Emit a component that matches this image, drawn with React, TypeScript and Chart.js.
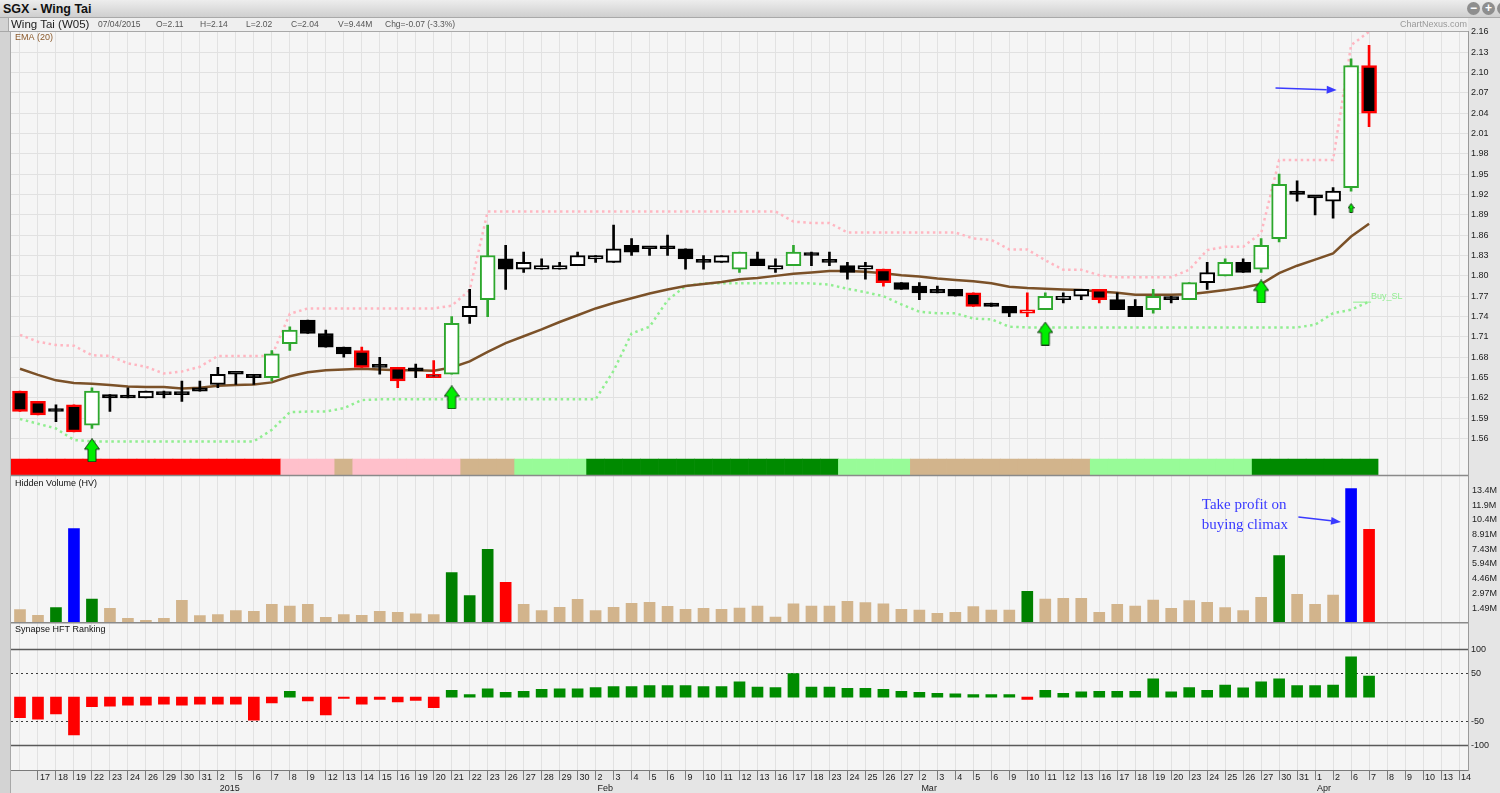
import React, { useEffect, useRef } from 'react';
import { Chart, registerables } from 'chart.js';

Chart.register(...registerables);

// ---------------- data ----------------
const xLabels: (string | string[])[] = [
  '16', '17', '18', '19', '22', '23', '24', '26', '29', '30', '31',
  ['2', '2015'], '5', '6', '7', '8', '9', '12', '13', '14', '15', '16', '19', '20', '21', '22', '23', '26', '27', '28', '29', '30',
  ['2', 'Feb'], '3', '4', '5', '6', '9', '10', '11', '12', '13', '16', '17', '18', '23', '24', '25', '26', '27',
  ['2', 'Mar'], '3', '4', '5', '6', '9', '10', '11', '12', '13', '16', '17', '18', '19', '20', '23', '24', '25', '26', '27', '30', '31',
  ['1', 'Apr'], '2', '6', '7', '8', '9', '10', '13', '14',
];

const opens = [
  1.63, 1.615, 1.60, 1.61, 1.58, 1.625, 1.62, 1.62, 1.625, 1.625, 1.635,
  1.64, 1.655, 1.655, 1.65, 1.70, 1.735, 1.715, 1.695, 1.69, 1.665, 1.665, 1.66, 1.655, 1.655, 1.74, 1.765, 1.825, 1.81, 1.81, 1.81, 1.815,
  1.825, 1.82, 1.845, 1.84, 1.84, 1.84, 1.82, 1.82, 1.81, 1.825, 1.81, 1.815, 1.83, 1.82, 1.815, 1.81, 1.81, 1.79,
  1.785, 1.78, 1.78, 1.775, 1.76, 1.755, 1.745, 1.75, 1.765, 1.77, 1.78, 1.765, 1.755, 1.75, 1.765, 1.765, 1.79, 1.80, 1.82, 1.81, 1.855, 1.925,
  1.915, 1.91, 1.93, 2.11,
];
const highs = [
  1.63, 1.615, 1.61, 1.61, 1.635, 1.625, 1.635, 1.63, 1.63, 1.645, 1.645,
  1.665, 1.655, 1.655, 1.69, 1.725, 1.735, 1.72, 1.695, 1.695, 1.68, 1.665, 1.67, 1.675, 1.74, 1.78, 1.875, 1.845, 1.835, 1.825, 1.82, 1.835,
  1.83, 1.875, 1.855, 1.84, 1.86, 1.84, 1.83, 1.83, 1.835, 1.835, 1.825, 1.845, 1.835, 1.835, 1.82, 1.82, 1.81, 1.79,
  1.79, 1.785, 1.78, 1.775, 1.76, 1.755, 1.775, 1.775, 1.775, 1.78, 1.78, 1.775, 1.765, 1.78, 1.77, 1.79, 1.82, 1.825, 1.825, 1.855, 1.95, 1.94,
  1.915, 1.93, 2.12, 2.14,
];
const lows = [
  1.60, 1.595, 1.585, 1.57, 1.575, 1.60, 1.62, 1.62, 1.62, 1.615, 1.63,
  1.635, 1.64, 1.64, 1.645, 1.69, 1.715, 1.695, 1.68, 1.665, 1.655, 1.635, 1.65, 1.65, 1.655, 1.73, 1.74, 1.78, 1.805, 1.81, 1.81, 1.815,
  1.82, 1.82, 1.83, 1.83, 1.83, 1.81, 1.81, 1.82, 1.805, 1.815, 1.805, 1.815, 1.815, 1.815, 1.795, 1.795, 1.785, 1.78,
  1.765, 1.775, 1.77, 1.755, 1.755, 1.74, 1.74, 1.75, 1.76, 1.765, 1.76, 1.75, 1.74, 1.745, 1.76, 1.765, 1.78, 1.80, 1.805, 1.805, 1.85, 1.91,
  1.89, 1.885, 1.925, 2.02,
];
const closes = [
  1.60, 1.595, 1.60, 1.57, 1.63, 1.62, 1.62, 1.63, 1.625, 1.625, 1.63,
  1.655, 1.655, 1.65, 1.685, 1.72, 1.715, 1.695, 1.685, 1.665, 1.665, 1.645, 1.66, 1.65, 1.73, 1.755, 1.83, 1.81, 1.82, 1.815, 1.815, 1.83,
  1.83, 1.84, 1.835, 1.84, 1.84, 1.825, 1.82, 1.83, 1.835, 1.815, 1.815, 1.835, 1.83, 1.82, 1.805, 1.815, 1.79, 1.78,
  1.775, 1.775, 1.77, 1.755, 1.755, 1.745, 1.75, 1.77, 1.77, 1.78, 1.765, 1.75, 1.74, 1.77, 1.765, 1.79, 1.805, 1.82, 1.805, 1.845, 1.935, 1.92,
  1.915, 1.925, 2.11, 2.04,
];
// candle frame signal: r = bearish highlight, g = bullish highlight, k = plain
const candleSignal = [
  'r', 'r', 'k', 'r', 'g', 'k', 'k', 'k', 'k', 'k', 'k',
  'k', 'k', 'k', 'g', 'g', 'k', 'k', 'k', 'r', 'k', 'r', 'k', 'r', 'g', 'k', 'g', 'k', 'k', 'k', 'k', 'k',
  'k', 'k', 'k', 'k', 'k', 'k', 'k', 'k', 'g', 'k', 'k', 'g', 'k', 'k', 'k', 'k', 'r', 'k',
  'k', 'k', 'k', 'r', 'k', 'k', 'r', 'g', 'k', 'k', 'r', 'k', 'k', 'g', 'k', 'g', 'k', 'g', 'k', 'g', 'g', 'k',
  'k', 'k', 'g', 'r',
];
const ema20 = [
  1.663, 1.654, 1.646, 1.642, 1.641, 1.639, 1.637, 1.636, 1.636, 1.634, 1.635,
  1.638, 1.639, 1.640, 1.643, 1.652, 1.658, 1.661, 1.662, 1.663, 1.662, 1.661, 1.661, 1.660, 1.665, 1.674, 1.688, 1.701, 1.711, 1.721, 1.732, 1.742,
  1.752, 1.760, 1.767, 1.774, 1.780, 1.785, 1.788, 1.791, 1.795, 1.797, 1.800, 1.803, 1.805, 1.807, 1.807, 1.806, 1.804, 1.801,
  1.799, 1.796, 1.794, 1.792, 1.789, 1.784, 1.782, 1.781, 1.780, 1.779, 1.777, 1.775, 1.772, 1.772, 1.772, 1.773, 1.776, 1.779, 1.783, 1.788, 1.804, 1.815,
  1.824, 1.833, 1.858, 1.877,
];
const upperBand = [
  1.713, 1.703, 1.698, 1.697, 1.683, 1.682, 1.671, 1.666, 1.656, 1.659, 1.666,
  1.682, 1.682, 1.682, 1.682, 1.744, 1.752, 1.752, 1.752, 1.752, 1.752, 1.752, 1.752, 1.752, 1.756, 1.779, 1.895, 1.895, 1.895, 1.895, 1.895, 1.895,
  1.895, 1.895, 1.895, 1.895, 1.895, 1.895, 1.895, 1.895, 1.895, 1.895, 1.895, 1.880, 1.878, 1.878, 1.864, 1.864, 1.864, 1.864,
  1.864, 1.864, 1.864, 1.855, 1.853, 1.839, 1.839, 1.823, 1.809, 1.809, 1.801, 1.798, 1.798, 1.798, 1.798, 1.809, 1.838, 1.843, 1.843, 1.863, 1.971, 1.971,
  1.971, 1.971, 2.140, 2.160,
];
const buyStopLoss = [
  1.589, 1.582, 1.575, 1.558, 1.556, 1.556, 1.556, 1.556, 1.556, 1.556, 1.556,
  1.556, 1.556, 1.556, 1.573, 1.599, 1.600, 1.600, 1.605, 1.617, 1.618, 1.618, 1.618, 1.618, 1.618, 1.618, 1.618, 1.618, 1.618, 1.618, 1.618, 1.618,
  1.618, 1.660, 1.715, 1.725, 1.764, 1.785, 1.789, 1.789, 1.789, 1.789, 1.789, 1.789, 1.789, 1.787, 1.781, 1.776, 1.770, 1.758,
  1.747, 1.745, 1.745, 1.737, 1.736, 1.725, 1.724, 1.724, 1.724, 1.724, 1.724, 1.724, 1.724, 1.724, 1.724, 1.724, 1.724, 1.724, 1.724, 1.724, 1.724, 1.724,
  1.728, 1.745, 1.750, 1.762,
];
// trend strip: SD strong down, WD weak down, N neutral, WU weak up, SU strong up
const trendState = [
  'SD', 'SD', 'SD', 'SD', 'SD', 'SD', 'SD', 'SD', 'SD', 'SD', 'SD',
  'SD', 'SD', 'SD', 'SD', 'WD', 'WD', 'WD', 'N', 'WD', 'WD', 'WD', 'WD', 'WD', 'WD', 'N', 'N', 'N', 'WU', 'WU', 'WU', 'WU',
  'SU', 'SU', 'SU', 'SU', 'SU', 'SU', 'SU', 'SU', 'SU', 'SU', 'SU', 'SU', 'SU', 'SU', 'WU', 'WU', 'WU', 'WU',
  'N', 'N', 'N', 'N', 'N', 'N', 'N', 'N', 'N', 'N', 'WU', 'WU', 'WU', 'WU', 'WU', 'WU', 'WU', 'WU', 'WU', 'SU', 'SU', 'SU',
  'SU', 'SU', 'SU', 'SU',
];
// buy signal markers: [day index, price level]
const buySignals = [[4, 1.543], [24, 1.621], [57, 1.715], [69, 1.777]];
const minorBuySignals = [[74, 1.9]];

// hidden volume, millions
const volumesM = [
  1.32, 0.74, 1.52, 9.52, 2.39, 1.45, 0.44, 0.23, 0.44, 2.26, 0.71,
  0.81, 1.22, 1.15, 1.85, 1.68, 1.85, 0.54, 0.81, 0.74, 1.15, 1.04, 0.91, 0.81, 5.07, 2.74, 7.43, 4.08, 1.85, 1.22, 1.55, 2.36,
  1.22, 1.55, 1.95, 2.05, 1.65, 1.35, 1.45, 1.35, 1.48, 1.68, 0.57, 1.92, 1.68, 1.68, 2.16, 2.03, 1.92, 1.35,
  1.28, 0.94, 1.04, 1.62, 1.28, 1.28, 3.17, 2.39, 2.46, 2.46, 1.04, 1.85, 1.68, 2.29, 1.45, 2.23, 2.06, 1.52, 1.22, 2.56, 6.79, 2.87,
  1.85, 2.80, 13.58, 9.44,
];
// n neutral, g hidden buying, b climax, r hidden selling
const volumeSignal = [
  'n', 'n', 'g', 'b', 'g', 'n', 'n', 'n', 'n', 'n', 'n',
  'n', 'n', 'n', 'n', 'n', 'n', 'n', 'n', 'n', 'n', 'n', 'n', 'n', 'g', 'g', 'g', 'r', 'n', 'n', 'n', 'n',
  'n', 'n', 'n', 'n', 'n', 'n', 'n', 'n', 'n', 'n', 'n', 'n', 'n', 'n', 'n', 'n', 'n', 'n',
  'n', 'n', 'n', 'n', 'n', 'n', 'g', 'n', 'n', 'n', 'n', 'n', 'n', 'n', 'n', 'n', 'n', 'n', 'n', 'n', 'g', 'n',
  'n', 'n', 'b', 'r',
];
const hftRanking = [
  -43, -46, -35, -79, -20, -19, -17, -17, -15, -17, -15,
  -15, -15, -48, -12, 12, -8, -37, -3, -15, -5, -10, -7, -22, 14, 5, 17, 10, 12, 16, 17, 17,
  20, 22, 22, 24, 24, 24, 22, 22, 32, 21, 20, 49, 21, 21, 18, 18, 16, 12,
  10, 8, 7, 5, 5, 5, -5, 14, 8, 11, 12, 12, 12, 38, 11, 20, 14, 25, 19, 32, 38, 24,
  24, 25, 84, 44,
];

const priceRange = [1.5057, 2.161];
const trendBandTop = 1.53;
const priceTicks = [1.56, 1.59, 1.62, 1.65, 1.68, 1.71, 1.74, 1.77, 1.80, 1.83, 1.86, 1.89, 1.92, 1.95, 1.98, 2.01, 2.04, 2.07, 2.10, 2.13, 2.16];
const volRange = [0, 14.9];
const volTicks = [1.486, 2.972, 4.458, 5.944, 7.43, 8.916, 10.4, 11.89, 13.37];
const volTickLabels = ['1.49M', '2.97M', '4.46M', '5.94M', '7.43M', '8.91M', '10.4M', '11.9M', '13.4M'];
const hftRange = [-152, 155];
const hftTicks = [-100, -50, 50, 100];

// annotations (category index, value)
const climaxPriceArrow = [[69.8, 2.077], [73.2, 2.074]];
const climaxVolArrow = [[71.07, 10.7], [73.44, 10.19]];
const climaxNoteLines = ['Take profit on', 'buying climax'];
const climaxNoteAt = [[65.7, 11.88], [65.7, 9.86]];

const stockName = 'Wing Tai (W05)';
const lastDate = '07/04/2015';

// ---------------- styles ----------------
const FONT = '"Liberation Sans", Arial, Helvetica, sans-serif';
const frameColor: Record<string, string> = { r: '#ff0000', g: '#2ea82e', k: '#000000' };
const trendColor: Record<string, string> = { SD: '#ff0000', WD: '#ffc0cb', N: '#d2b48c', WU: '#98fb98', SU: '#008a00' };
const volColor: Record<string, string> = { n: '#d2b48c', g: '#008000', b: '#0000ff', r: '#ff0000' };

function markerSeries(pairs: number[][]) {
  const out: (number | null)[] = closes.map(() => null);
  pairs.forEach(([i, v]) => { out[i] = v; });
  return out;
}

function makeArrow(w: number, h: number, headH: number, shaftW: number) {
  const c = document.createElement('canvas');
  c.width = w;
  c.height = h;
  const g = c.getContext('2d')!;
  const mid = w / 2;
  g.beginPath();
  g.moveTo(mid, 0.5);
  g.lineTo(w - 0.5, headH);
  g.lineTo(mid + shaftW / 2, headH);
  g.lineTo(mid + shaftW / 2, h - 0.5);
  g.lineTo(mid - shaftW / 2, h - 0.5);
  g.lineTo(mid - shaftW / 2, headH);
  g.lineTo(0.5, headH);
  g.closePath();
  g.fillStyle = '#00ee00';
  g.fill();
  g.strokeStyle = '#163816';
  g.lineWidth = 1;
  g.stroke();
  return c;
}

function drawArrow(ctx: CanvasRenderingContext2D, x1: number, y1: number, x2: number, y2: number, color: string) {
  const ang = Math.atan2(y2 - y1, x2 - x1);
  const hl = 10;
  const hw = 4;
  ctx.save();
  ctx.strokeStyle = color;
  ctx.fillStyle = color;
  ctx.lineWidth = 1.5;
  ctx.beginPath();
  ctx.moveTo(x1, y1);
  ctx.lineTo(x2 - hl * Math.cos(ang), y2 - hl * Math.sin(ang));
  ctx.stroke();
  ctx.beginPath();
  ctx.moveTo(x2, y2);
  ctx.lineTo(x2 - hl * Math.cos(ang) + hw * Math.sin(ang), y2 - hl * Math.sin(ang) - hw * Math.cos(ang));
  ctx.lineTo(x2 - hl * Math.cos(ang) - hw * Math.sin(ang), y2 - hl * Math.sin(ang) + hw * Math.cos(ang));
  ctx.closePath();
  ctx.fill();
  ctx.restore();
}

const panelPlugin = {
  id: 'panels',
  beforeDraw(chart: any) {
    const { ctx, chartArea: a, width, height } = chart;
    ctx.save();
    ctx.fillStyle = '#e5e5e5';
    ctx.fillRect(0, 0, width, height);
    ctx.fillStyle = '#d3d3d3';
    ctx.fillRect(0, 0, a.left, height);
    ctx.fillStyle = '#f5f5f5';
    ctx.fillRect(a.left, a.top, a.right - a.left, a.bottom - a.top);
    ctx.restore();
  },
  beforeDatasetsDraw(chart: any) {
    const { ctx, chartArea: a } = chart;
    const yh = chart.scales.yHft;
    ctx.save();
    for (const v of hftTicks) {
      const py = Math.round(yh.getPixelForValue(v)) + 0.5;
      const major = Math.abs(v) === 100;
      ctx.strokeStyle = major ? '#5a5a5a' : '#3a3a3a';
      ctx.lineWidth = major ? 1.5 : 1;
      ctx.setLineDash(major ? [] : [2, 3]);
      ctx.beginPath();
      ctx.moveTo(a.left, py);
      ctx.lineTo(a.right, py);
      ctx.stroke();
    }
    ctx.restore();
  },
  afterDraw(chart: any) {
    const { ctx, chartArea: a } = chart;
    const xs = chart.scales.x;
    const yp = chart.scales.yPrice;
    const yv = chart.scales.yVol;
    const yh = chart.scales.yHft;
    ctx.save();
    // panel separators and frame
    ctx.strokeStyle = '#8a8a8a';
    ctx.lineWidth = 1.5;
    for (const y of [yv.top, yh.top]) {
      ctx.beginPath();
      ctx.moveTo(a.left, y);
      ctx.lineTo(a.right, y);
      ctx.stroke();
    }
    ctx.lineWidth = 1;
    ctx.strokeStyle = '#a8a8a8';
    ctx.beginPath();
    ctx.moveTo(a.left - 0.5, a.top);
    ctx.lineTo(a.left - 0.5, a.bottom + 23);
    ctx.stroke();
    ctx.beginPath();
    ctx.moveTo(0, a.top + 0.5);
    ctx.lineTo(a.right, a.top + 0.5);
    ctx.stroke();

    // panel titles
    ctx.font = `9px ${FONT}`;
    ctx.textBaseline = 'middle';
    ctx.textAlign = 'left';
    ctx.fillStyle = '#8b5a2b';
    ctx.fillText('EMA (20)', a.left + 4, yp.top + 6.5);
    ctx.fillStyle = '#111111';
    ctx.fillText('Hidden Volume (HV)', a.left + 4, yv.top + 8);
    ctx.fillText('Synapse HFT Ranking', a.left + 4, yh.top + 7);

    // Buy_SL label
    const li = buyStopLoss.length - 1;
    const bx = xs.getPixelForValue(li);
    const by = yp.getPixelForValue(buyStopLoss[li]);
    ctx.strokeStyle = '#90ee90';
    ctx.lineWidth = 1;
    ctx.beginPath();
    ctx.moveTo(bx - 16, by + 0.5);
    ctx.lineTo(bx + 2, by + 0.5);
    ctx.stroke();
    ctx.fillStyle = '#90ee90';
    ctx.fillText('Buy_SL', bx + 2, by - 5);

    // climax annotations
    const blue = '#3a3aff';
    drawArrow(ctx,
      xs.getPixelForValue(climaxPriceArrow[0][0]), yp.getPixelForValue(climaxPriceArrow[0][1]),
      xs.getPixelForValue(climaxPriceArrow[1][0]), yp.getPixelForValue(climaxPriceArrow[1][1]), blue);
    drawArrow(ctx,
      xs.getPixelForValue(climaxVolArrow[0][0]), yv.getPixelForValue(climaxVolArrow[0][1]),
      xs.getPixelForValue(climaxVolArrow[1][0]), yv.getPixelForValue(climaxVolArrow[1][1]), blue);
    ctx.font = `15px "Liberation Serif", "Times New Roman", serif`;
    ctx.fillStyle = blue;
    climaxNoteLines.forEach((t, i) => {
      ctx.fillText(t, xs.getPixelForValue(climaxNoteAt[i][0]), yv.getPixelForValue(climaxNoteAt[i][1]));
    });
    ctx.restore();
  },
};

export default function App() {
  const ref = useRef<HTMLCanvasElement>(null);

  useEffect(() => {
    const canvas = ref.current;
    if (!canvas) return;
    const arrowBig = makeArrow(16, 24, 11, 8);
    const arrowSmall = makeArrow(7, 10, 5, 3);

    const frames = candleSignal.map((s) => frameColor[s]);
    const fills = closes.map((c, i) => (c > opens[i] ? '#ffffff' : c < opens[i] ? '#000000' : frames[i]));
    const tickFont = { family: FONT, size: 9 };

    const chart = new Chart(canvas, {
      type: 'bar',
      data: {
        labels: xLabels as any,
        datasets: [
          {
            type: 'line',
            label: 'buy',
            data: markerSeries(buySignals) as any,
            yAxisID: 'yPrice',
            showLine: false,
            pointStyle: arrowBig as any,
            pointRadius: 10,
            order: 0,
          },
          {
            type: 'line',
            label: 'buy2',
            data: markerSeries(minorBuySignals) as any,
            yAxisID: 'yPrice',
            showLine: false,
            pointStyle: arrowSmall as any,
            pointRadius: 6,
            order: 0,
          },
          {
            type: 'bar',
            label: 'body',
            data: opens.map((o, i) => [o, closes[i]]) as any,
            yAxisID: 'yPrice',
            backgroundColor: fills,
            borderColor: frames,
            borderWidth: ((c: any) => (candleSignal[c.dataIndex] === 'r' ? 2.5 : 2)) as any,
            borderSkipped: false,
            barThickness: 15,
            minBarLength: 3,
            grouped: false,
            order: 1,
          },
          {
            type: 'bar',
            label: 'wick',
            data: lows.map((l, i) => [l, highs[i]]) as any,
            yAxisID: 'yPrice',
            backgroundColor: frames,
            borderWidth: 0,
            barThickness: 2,
            grouped: false,
            order: 2,
          },
          {
            type: 'line',
            label: 'EMA (20)',
            data: ema20,
            yAxisID: 'yPrice',
            borderColor: '#7b5128',
            borderWidth: 2.5,
            pointRadius: 0,
            tension: 0,
            order: 3,
          },
          {
            type: 'line',
            label: 'upper',
            data: upperBand,
            yAxisID: 'yPrice',
            borderColor: '#ffb6c1',
            borderWidth: 2.5,
            borderDash: [2.5, 3.5],
            pointRadius: 0,
            tension: 0,
            order: 4,
          },
          {
            type: 'line',
            label: 'Buy_SL',
            data: buyStopLoss,
            yAxisID: 'yPrice',
            borderColor: '#90ee90',
            borderWidth: 2.5,
            borderDash: [2.5, 3.5],
            pointRadius: 0,
            tension: 0,
            order: 4,
          },
          {
            type: 'bar',
            label: 'trend',
            data: trendState.map(() => [priceRange[0], trendBandTop]) as any,
            yAxisID: 'yPrice',
            backgroundColor: trendState.map((s) => trendColor[s]),
            borderWidth: 0,
            barPercentage: 1,
            categoryPercentage: 1,
            grouped: false,
            order: 5,
          },
          {
            type: 'bar',
            label: 'Hidden Volume (HV)',
            data: volumesM,
            yAxisID: 'yVol',
            backgroundColor: volumeSignal.map((s) => volColor[s]),
            borderWidth: 0,
            barThickness: 11,
            grouped: false,
            order: 6,
          },
          {
            type: 'bar',
            label: 'Synapse HFT Ranking',
            data: hftRanking,
            yAxisID: 'yHft',
            backgroundColor: hftRanking.map((v) => (v >= 0 ? '#008c00' : '#ff0000')),
            borderWidth: 0,
            barThickness: 11,
            grouped: false,
            order: 6,
          },
        ],
      },
      options: {
        animation: false,
        responsive: false,
        maintainAspectRatio: false,
        events: [],
        layout: { padding: { left: 8, top: 13, right: 0, bottom: 0 } },
        plugins: { legend: { display: false }, tooltip: { enabled: false } },
        scales: {
          x: {
            type: 'category',
            offset: true,
            grid: {
              offset: false,
              color: '#e2e2e2',
              drawTicks: true,
              tickLength: 10,
              tickWidth: 1,
              tickColor: ((c: any) => (c.index === 0 ? 'rgba(0,0,0,0)' : '#7c7c7c')) as any,
            },
            border: { display: true, color: '#7a7a7a' },
            ticks: {
              autoSkip: false,
              maxRotation: 0,
              minRotation: 0,
              align: 'start',
              labelOffset: 2,
              padding: -8,
              color: '#222222',
              font: tickFont,
              callback: (_v: any, i: number) => (i === 0 ? '' : (xLabels[i] as any)),
            },
            afterFit: (s: any) => { s.height = 23; },
          },
          yPrice: {
            type: 'linear',
            position: 'right',
            stack: 'panes',
            stackWeight: 444.5,
            min: priceRange[0],
            max: priceRange[1],
            afterBuildTicks: (s: any) => { s.ticks = priceTicks.map((v) => ({ value: v })); },
            grid: { color: '#e1e1e1', drawTicks: false },
            border: { display: true, color: '#9a9a9a' },
            ticks: { autoSkip: false, padding: 3, color: '#222222', font: tickFont, callback: (v: any) => Number(v).toFixed(2) },
            afterFit: (s: any) => { s.width = 32; },
          },
          yVol: {
            type: 'linear',
            position: 'right',
            stack: 'panes',
            stackWeight: 147.2,
            min: volRange[0],
            max: volRange[1],
            afterBuildTicks: (s: any) => { s.ticks = volTicks.map((v) => ({ value: v })); },
            grid: { display: false, drawTicks: false },
            border: { display: true, color: '#9a9a9a' },
            ticks: {
              autoSkip: false, padding: 4, color: '#222222', font: tickFont,
              callback: (v: any) => { const k = volTicks.indexOf(Number(v)); return k >= 0 ? volTickLabels[k] : ''; },
            },
            afterFit: (s: any) => { s.width = 32; },
          },
          yHft: {
            type: 'linear',
            position: 'right',
            stack: 'panes',
            stackWeight: 147.3,
            min: hftRange[0],
            max: hftRange[1],
            afterBuildTicks: (s: any) => { s.ticks = hftTicks.map((v) => ({ value: v })); },
            grid: { display: false, drawTicks: false },
            border: { display: true, color: '#9a9a9a' },
            ticks: { autoSkip: false, padding: 3, color: '#222222', font: tickFont, callback: (v: any) => String(v) },
            afterFit: (s: any) => { s.width = 32; },
          },
        },
      } as any,
      plugins: [panelPlugin],
    });
    return () => chart.destroy();
  }, []);

  const li = closes.length - 1;
  const chg = closes[li] - closes[li - 1];
  const pct = (chg / closes[li - 1]) * 100;
  const fields = [
    { t: lastDate, x: 97 },
    { t: `O=${opens[li].toFixed(2)}`, x: 155 },
    { t: `H=${highs[li].toFixed(2)}`, x: 199 },
    { t: `L=${lows[li].toFixed(2)}`, x: 245 },
    { t: `C=${closes[li].toFixed(2)}`, x: 290 },
    { t: `V=${volumesM[li].toFixed(2)}M`, x: 337 },
    { t: `Chg=${chg.toFixed(2)} (${pct.toFixed(1)}%)`, x: 384 },
  ];

  return (
    <div style={{ position: 'absolute', left: 0, top: 0, width: 1500, height: 793, overflow: 'hidden', background: '#d3d3d3', fontFamily: FONT }}>
      <div style={{ position: 'absolute', left: 0, top: 0, width: 1500, height: 18, boxSizing: 'border-box', background: 'linear-gradient(#ededed, #cfcfcf)', borderBottom: '1px solid #a9a9a9' }}>
        <span style={{ position: 'absolute', left: 3, top: 0, lineHeight: '18px', fontSize: 12.5, fontWeight: 'bold', color: '#111' }}>SGX - Wing Tai</span>
        <span style={{ position: 'absolute', left: 1467, top: 2, width: 13, height: 13, borderRadius: '50%', background: '#8e8e8e', color: '#fff', fontSize: 12, lineHeight: '12px', textAlign: 'center', fontWeight: 'bold' }}>−</span>
        <span style={{ position: 'absolute', left: 1482, top: 2, width: 13, height: 13, borderRadius: '50%', background: '#8e8e8e', color: '#fff', fontSize: 12, lineHeight: '13px', textAlign: 'center', fontWeight: 'bold' }}>+</span>
        <span style={{ position: 'absolute', left: 1497, top: 2, width: 13, height: 13, borderRadius: '50%', background: '#8e8e8e' }}></span>
      </div>
      <canvas ref={ref} width={1500} height={775} style={{ position: 'absolute', left: 0, top: 18, width: 1500, height: 775 }} />
      <div style={{ position: 'absolute', left: 8, top: 18, width: 1460, height: 13, boxSizing: 'border-box', background: '#efefef', borderLeft: '1px solid #a8a8a8' }}>
        <span style={{ position: 'absolute', left: 2, top: -1, lineHeight: '14px', fontSize: 11.5, color: '#222', whiteSpace: 'nowrap' }}>{stockName}</span>
        {fields.map((f) => (
          <span key={f.x} style={{ position: 'absolute', left: f.x - 8, top: 0, lineHeight: '13px', fontSize: 8.5, color: '#555', whiteSpace: 'nowrap' }}>{f.t}</span>
        ))}
        <span style={{ position: 'absolute', right: 1, top: 0, lineHeight: '13px', fontSize: 9, color: '#9a9a9a', whiteSpace: 'nowrap' }}>ChartNexus.com</span>
      </div>
    </div>
  );
}
